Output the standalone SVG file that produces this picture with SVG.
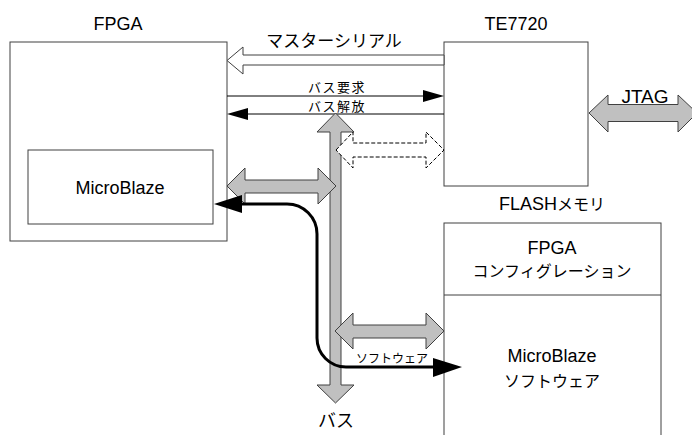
<svg xmlns="http://www.w3.org/2000/svg" width="692" height="435" viewBox="0 0 692 435">
<style>
.box{fill:#fff;stroke:#404040;stroke-width:1}
.t{font-family:"Liberation Sans","Noto Sans CJK JP",sans-serif;fill:#000;text-anchor:middle}
.j{font-family:"Noto Sans CJK JP","Liberation Sans",sans-serif;fill:#000;text-anchor:middle}
.g{fill:#c0c0c0;stroke:#404040;stroke-width:1}
.h{fill:#fff;stroke:#404040;stroke-width:1}
.d{fill:#fff;stroke:#000;stroke-width:1;stroke-dasharray:4 2}
.ln{stroke:#000;stroke-width:1;fill:none}
.bk{stroke:#000;stroke-width:3;fill:none}
</style>
<g id="fpga">
<rect class="box" x="10" y="42" width="217" height="199"/>
<text class="t" x="118" y="30" font-size="18">FPGA</text>
</g>
<g id="microblaze">
<rect class="box" x="28" y="150" width="185" height="74"/>
<text class="t" x="120" y="194" font-size="18">MicroBlaze</text>
</g>
<g id="te7720">
<rect class="box" x="444" y="42" width="144" height="144"/>
<text class="t" x="516" y="30" font-size="18">TE7720</text>
</g>
<g id="flash">
<rect class="box" x="444" y="223" width="217" height="220"/>
<line x1="444" y1="295" x2="661" y2="295" stroke="#404040" stroke-width="1"/>
<text class="t" x="552" y="210" font-size="18">FLASH<tspan font-size="16">メモリ</tspan></text>
<text class="t" x="552" y="254" font-size="18">FPGA</text>
<text class="j" x="552" y="277" font-size="16">コンフィグレーション</text>
<text class="t" x="552" y="362" font-size="18">MicroBlaze</text>
<text class="j" x="552" y="387" font-size="16">ソフトウェア</text>
</g>
<g id="connectors">
<polygon class="h" points="444,55 243,55 243,47 227,60.5 243,74 243,65 444,65"/>
<text class="j" x="334" y="47" font-size="17">マスターシリアル</text>
<line class="ln" x1="227" y1="96" x2="430" y2="96"/>
<polygon points="423,90 444,96 423,102" fill="#000"/>
<text class="j" x="337" y="92" font-size="13" letter-spacing="1.5">バス要求</text>
<line class="ln" x1="240" y1="114" x2="444" y2="114"/>
<polygon points="248,108 227,114 248,120" fill="#000"/>
<text class="j" x="337" y="111" font-size="13" letter-spacing="1.5">バス解放</text>
<polygon class="g" points="335.5,113 354,132 341,132 341,385 354,385 335.5,403 317,385 330,385 330,132 317,132"/>
<polygon class="d" points="336,150 353,132 353,143 426,143 426,132 444,150 426,168 426,157 353,157 353,168"/>
<polygon class="g" points="227,186 245,168 245,180 318,180 318,168 336,186 318,204 318,193 245,193 245,204"/>
<polygon class="g" points="335,331 353,313 353,325 426,325 426,313 444,331 426,349 426,338 353,338 353,349"/>
<polygon class="g" points="589,113 608,95 608,104.5 678,104.5 678,95 697,113 678,132 678,121.5 608,121.5 608,132"/>
<text class="t" x="645" y="103" font-size="19">JTAG</text>
<path class="bk" d="M238 204 H287 A30 30 0 0 1 317 234 V338 A29 29 0 0 0 346 367 H436"/>
<polygon points="242,195 214,204 242,213" fill="#000"/>
<polygon points="433,358 462,367 433,377" fill="#000"/>
<text class="j" x="392" y="363" font-size="12">ソフトウェア</text>
<text class="j" x="336" y="427" font-size="18">バス</text>
</g>
</svg>
